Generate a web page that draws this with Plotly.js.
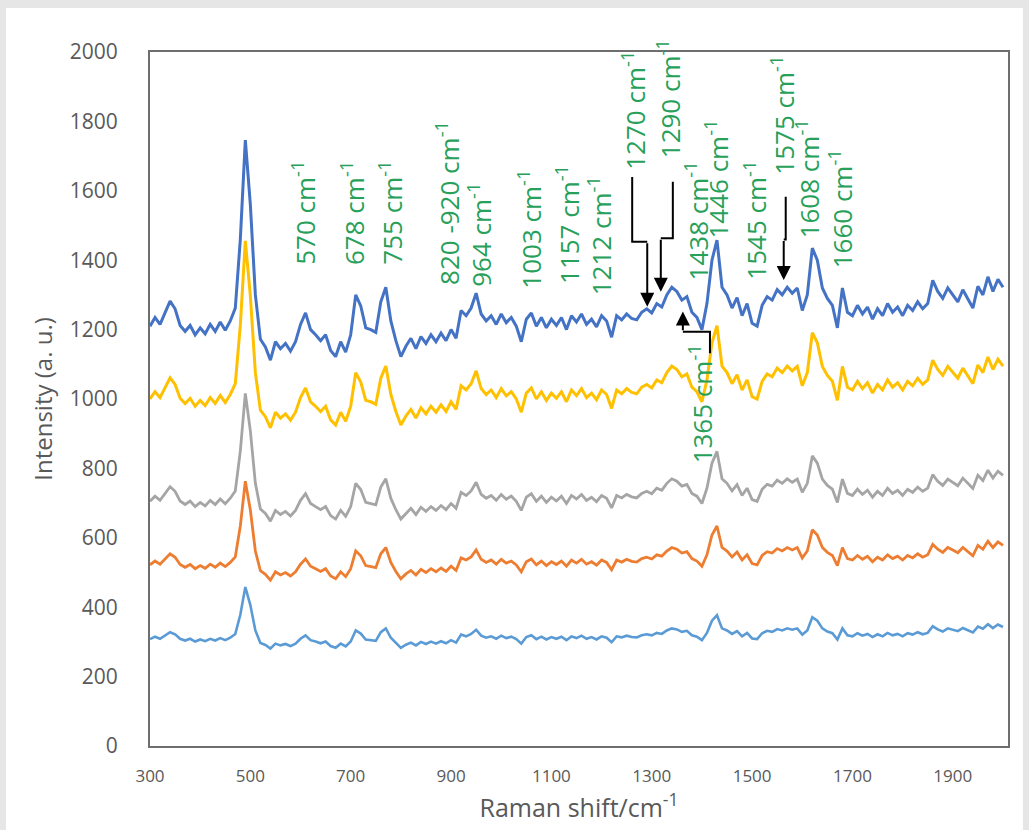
<!DOCTYPE html>
<html>
<head>
<meta charset="utf-8">
<script src="https://cdn.plot.ly/plotly-3.0.1.min.js"></script>
<style>html,body{margin:0;padding:0;background:#e6e6e6;}#chart{width:1029px;height:830px;}</style>
</head>
<body>
<div id="chart"></div>
<script>
// Raman shift (cm-1)
const ramanShift = [300,310,320,330,340,350,360,370,380,390,400,410,420,430,440,450,460,470,480,490,
500,510,520,530,540,550,560,570,580,590,600,610,620,630,640,650,660,670,680,690,
700,710,720,730,740,750,760,770,780,790,800,810,820,830,840,850,860,870,880,890,
900,910,920,930,940,950,960,970,980,990,1000,1010,1020,1030,1040,1050,1060,1070,1080,1090,
1100,1110,1120,1130,1140,1150,1160,1170,1180,1190,1200,1210,1220,1230,1240,1250,1260,1270,1280,1290,
1300,1310,1320,1330,1340,1350,1360,1370,1380,1390,1400,1410,1420,1430,1440,1450,1460,1470,1480,1490,
1500,1510,1520,1530,1540,1550,1560,1570,1580,1590,1600,1610,1620,1630,1640,1650,1660,1670,1680,1690,
1700,1710,1720,1730,1740,1750,1760,1770,1780,1790,1800,1810,1820,1830,1840,1850,1860,1870,1880,1890,
1900,1910,1920,1930,1940,1950,1960,1970,1980,1990,2000];

const seriesBlue = [1210,1235,1215,1250,1282,1260,1212,1195,1212,1185,1205,1188,1215,1195,1222,1198,1225,1262,1460,1746,
1560,1300,1172,1150,1112,1165,1145,1160,1138,1165,1215,1248,1200,1185,1168,1185,1140,1122,1165,1135,
1185,1300,1268,1205,1200,1192,1280,1322,1225,1168,1122,1152,1175,1145,1180,1160,1185,1165,1190,1168,
1200,1175,1255,1240,1262,1305,1245,1225,1240,1215,1245,1220,1235,1210,1165,1230,1248,1210,1235,1205,
1230,1212,1235,1200,1240,1222,1245,1215,1230,1208,1240,1225,1178,1240,1228,1245,1232,1228,1250,1260,
1248,1275,1265,1300,1322,1310,1285,1295,1250,1235,1200,1275,1400,1458,1322,1300,1262,1292,1240,1275,
1218,1210,1270,1295,1285,1315,1300,1322,1305,1320,1255,1300,1435,1400,1320,1290,1270,1205,1320,1250,
1240,1270,1245,1265,1230,1260,1240,1275,1250,1265,1240,1270,1255,1280,1260,1275,1342,1310,1290,1320,
1300,1280,1315,1290,1262,1325,1300,1352,1310,1345,1322];

const seriesYellow = [1000,1021,1004,1034,1061,1042,1002,987,1002,979,996,981,1004,987,1010,990,1013,1044,1212,1456,
1297,1076,968,949,917,962,945,957,939,962,1004,1032,992,979,964,979,940,925,962,936,
979,1076,1049,996,992,985,1060,1095,1013,964,925,951,970,945,975,957,979,962,983,964,
992,970,1038,1026,1044,1081,1030,1013,1026,1004,1030,1009,1021,1000,962,1017,1032,1000,1021,996,
1017,1002,1021,992,1026,1010,1030,1004,1017,998,1026,1013,973,1026,1015,1030,1019,1015,1034,1042,
1032,1055,1047,1076,1095,1085,1064,1072,1034,1021,992,1055,1162,1211,1095,1076,1044,1070,1026,1055,
1007,1000,1051,1072,1064,1089,1076,1095,1081,1094,1038,1076,1191,1162,1094,1068,1051,996,1094,1034,
1026,1051,1030,1047,1017,1042,1026,1055,1034,1047,1026,1051,1038,1060,1042,1055,1112,1085,1068,1094,
1076,1060,1089,1068,1044,1098,1076,1121,1085,1115,1095];

const seriesGrey = [705,720,708,728,747,734,706,696,706,690,702,692,708,696,712,698,714,735,850,1016,
908,757,683,670,648,679,667,676,663,679,708,727,699,690,681,690,664,654,679,662,
690,757,739,702,699,695,746,770,714,681,654,671,685,667,688,676,690,679,693,681,
699,685,731,722,735,760,725,714,722,708,725,711,720,705,679,717,727,705,720,702,
717,706,720,699,722,712,725,708,717,704,722,714,686,722,715,725,718,715,728,734,
727,743,737,757,770,763,749,754,728,720,699,743,815,849,770,757,735,753,722,743,
710,705,740,754,749,766,757,770,760,769,731,757,836,815,769,751,740,702,769,728,
722,740,725,737,717,734,722,743,728,737,722,740,731,746,734,743,782,763,751,769,
760,750,772,758,742,780,765,795,772,792,780];

const seriesOrange = [522,533,524,540,554,544,523,515,523,511,520,512,524,515,527,517,529,545,634,763,
680,562,505,495,478,502,493,500,490,502,524,539,518,511,503,511,490,482,502,488,
511,562,548,520,518,514,554,572,529,503,482,496,506,493,509,500,511,502,513,503,
518,506,542,536,545,565,538,529,536,524,538,527,533,522,502,531,539,522,533,520,
531,523,533,518,536,527,538,524,531,521,536,529,508,536,530,538,532,530,540,544,
539,551,547,562,572,567,556,560,540,533,518,551,608,634,572,562,545,559,536,551,
526,522,549,560,556,569,562,572,565,572,542,562,623,608,572,558,549,520,572,540,
536,549,538,547,531,544,536,551,540,547,536,549,542,554,544,551,581,567,558,572,
565,557,572,560,548,578,567,590,572,588,578];

const seriesLightBlue = [308,315,309,319,328,322,309,304,309,301,307,302,309,304,311,305,312,323,378,458,
406,333,297,291,281,295,290,294,288,295,309,319,305,301,296,301,288,283,295,287,
301,333,324,307,305,303,328,339,312,296,283,292,298,290,300,294,301,295,302,296,
305,298,321,316,323,335,318,312,316,309,318,311,315,308,295,314,319,308,315,307,
314,309,315,305,316,311,318,309,314,307,316,312,299,316,313,318,314,313,319,322,
319,326,323,333,339,336,329,332,319,315,305,326,361,377,339,333,323,331,316,326,
310,308,325,332,329,337,333,339,335,339,321,333,371,361,339,330,325,307,339,319,
316,325,318,323,314,322,316,326,319,323,316,325,321,328,322,326,345,336,330,339,
335,331,340,334,327,344,338,351,340,350,343];

const xTickVals = [300,500,700,900,1100,1300,1500,1700,1900];

// peak labels: text, x (cm-1), bottom y (a.u.)
const peakLabels = ['570','678','755','820 -920','964','1003','1157','1212','1270','1290','1438','1446','1545','1575','1608','1660','1365'];
const peakLabelX = [607,705,780,894,958,1057,1133,1197,1263,1336,1390,1430,1506,1562,1611,1679,1400];
const peakLabelY = [1381,1381,1381,1323,1318,1313,1327,1292,1654,1689,1337,1458,1337,1640,1458,1372,810];

// leader lines: polyline points, last point is arrow tip
const leaderLines = [
  [[1261,1640],[1261,1453],[1291,1453],[1291,1266]],
  [[1342,1626],[1342,1463],[1318,1463],[1318,1309]],
  [[1567,1583],[1567,1460],[1563,1460],[1563,1343]],
  [[1416,1132],[1416,1194],[1362,1194],[1362,1252]]
];

const font = 'Open Sans, Noto Sans, sans-serif';
const axisGrey = '#595959';
const green = '#27a05a';

const traces = [
  {y: seriesBlue, color: '#4472C4', w: 3},
  {y: seriesYellow, color: '#FFC000', w: 3},
  {y: seriesGrey, color: '#A5A5A5', w: 2.8},
  {y: seriesOrange, color: '#ED7D31', w: 2.8},
  {y: seriesLightBlue, color: '#5B9BD5', w: 2.6}
].map(s => ({
  x: ramanShift, y: s.y, type: 'scatter', mode: 'lines',
  line: {color: s.color, width: s.w, shape: 'linear'},
  hoverinfo: 'x+y', showlegend: false
}));

const annotations = peakLabels.map((t, i) => ({
  x: peakLabelX[i], y: peakLabelY[i], xref: 'x', yref: 'y',
  text: t + ' cm<sup>-1</sup>', textangle: -90, showarrow: false,
  xanchor: 'center', yanchor: 'bottom',
  font: {family: font, size: 26, color: green}
}));

const shapes = [{
  type: 'rect', xref: 'paper', yref: 'paper',
  x0: (6 - 150) / 858, x1: (1023 - 150) / 858,
  y0: (746 - 835) / 694, y1: (746 - 8) / 694,
  fillcolor: '#ffffff', line: {width: 0}, layer: 'below'
}];

leaderLines.forEach(pts => {
  const body = pts.slice(0, pts.length - 1);
  shapes.push({
    type: 'path', xref: 'x', yref: 'y',
    path: 'M ' + body.map(p => p[0] + ',' + p[1]).join(' L '),
    line: {color: '#000000', width: 2}
  });
  const tail = pts[pts.length - 2], tip = pts[pts.length - 1];
  annotations.push({
    x: tip[0], y: tip[1], ax: tail[0], ay: tail[1], axref: 'x', ayref: 'y',
    xref: 'x', yref: 'y', text: '', showarrow: true,
    arrowhead: 2, arrowsize: 1.4, arrowwidth: 2, arrowcolor: '#000000', standoff: 0
  });
});

const layout = {
  width: 1029, height: 830, autosize: false,
  margin: {l: 150, r: 21, t: 52, b: 84, pad: 0},
  paper_bgcolor: '#e6e6e6', plot_bgcolor: '#ffffff',
  font: {family: font, color: axisGrey},
  xaxis: {
    range: [300, 2010], tickvals: xTickVals, ticks: '', showgrid: false, zeroline: false,
    showline: true, mirror: true, linecolor: '#6e6e6e', linewidth: 2,
    tickfont: {family: font, size: 17, color: axisGrey}, ticklabelstandoff: 14,
    title: {text: 'Raman shift/cm<sup>-1</sup>', font: {family: font, size: 25, color: axisGrey}, standoff: 12}
  },
  yaxis: {
    range: [0, 2000], dtick: 200, ticks: '', showgrid: false, zeroline: false,
    showline: true, mirror: true, linecolor: '#6e6e6e', linewidth: 2,
    tickfont: {family: font, size: 21, color: axisGrey}, ticklabelstandoff: 26,
    title: {text: 'Intensity (a. u.)', font: {family: font, size: 24, color: axisGrey}, standoff: 10}
  },
  annotations: annotations,
  shapes: shapes
};

Plotly.newPlot('chart', traces, layout, {staticPlot: true, displayModeBar: false});
</script>
</body>
</html>
